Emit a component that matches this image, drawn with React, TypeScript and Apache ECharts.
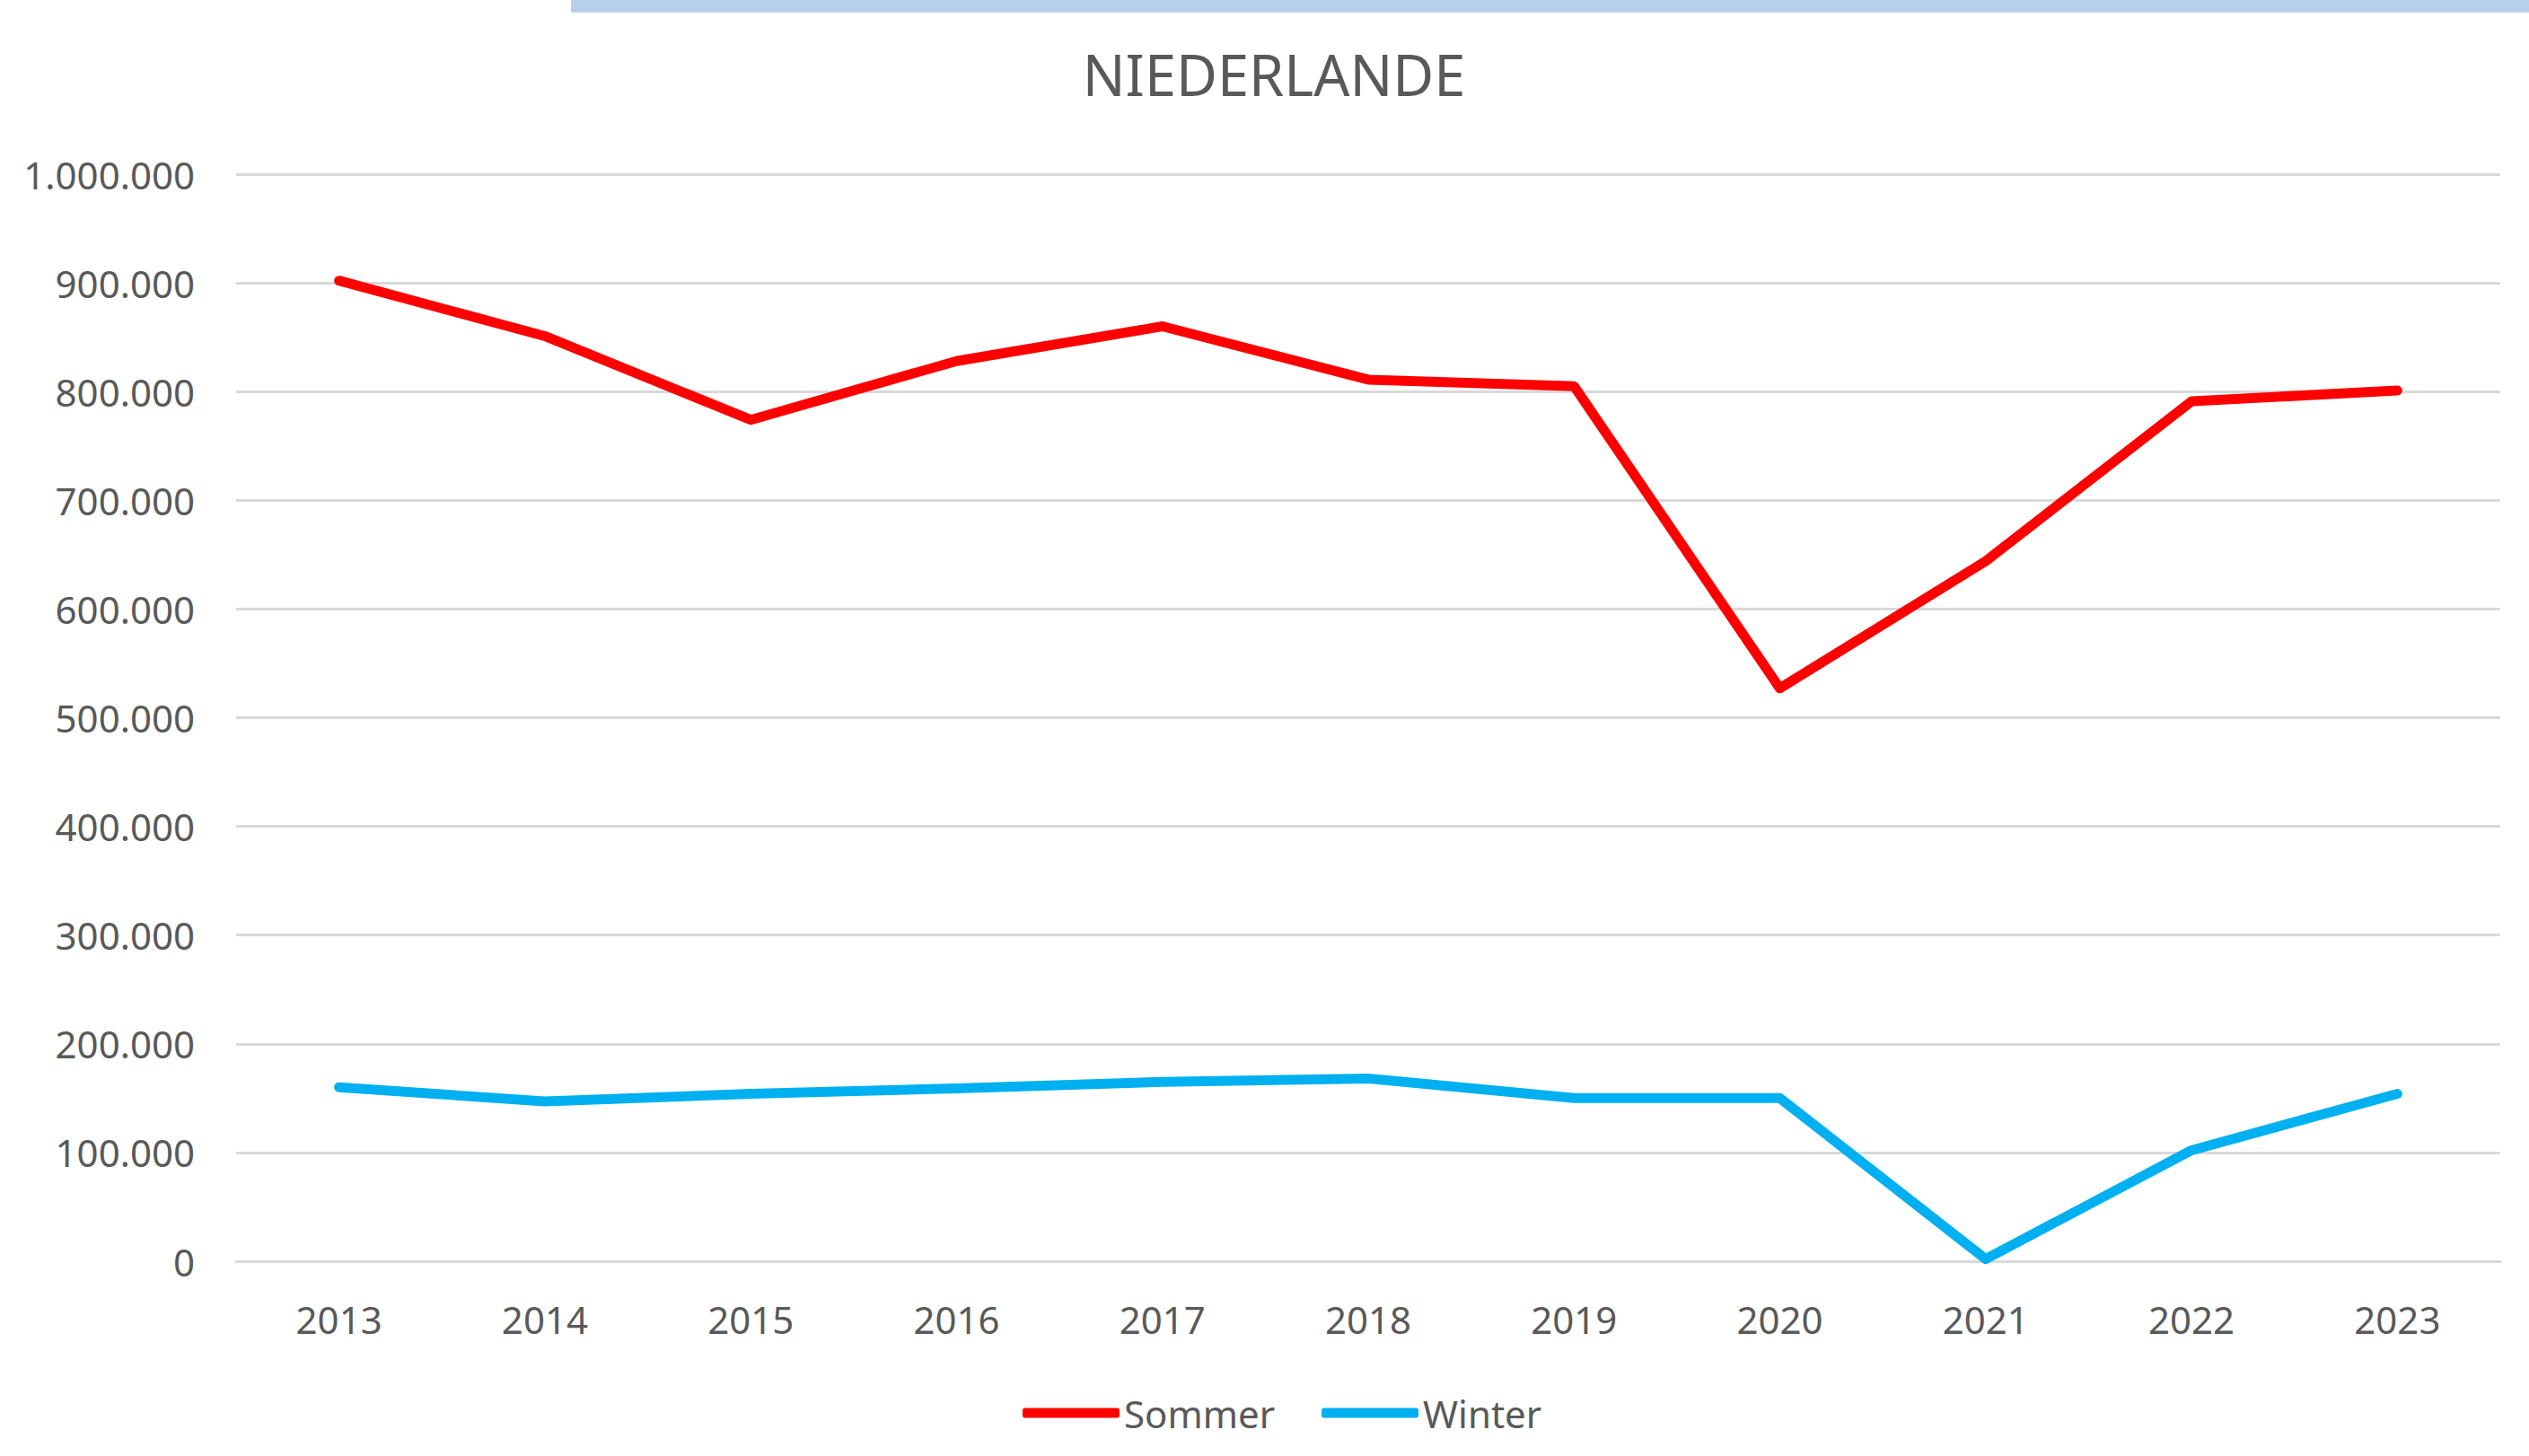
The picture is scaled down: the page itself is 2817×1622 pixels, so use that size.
import React, { useEffect, useRef } from "react";
import * as echarts from "echarts";

const years = ["2013", "2014", "2015", "2016", "2017", "2018", "2019", "2020", "2021", "2022", "2023"];
const sommer = [902000, 851000, 774000, 828000, 860000, 811000, 805000, 527000, 644000, 791000, 801000];
const winter = [160000, 147000, 154000, 159000, 165000, 168000, 150000, 150000, 2000, 102000, 154000];
const seriesNames = ["Sommer", "Winter"];
const seriesColors = ["#FF0000", "#00B0F0"];

const FONT = "'Noto Sans', sans-serif";
const TEXT = "#595959";

function fmt(v: number): string {
  return String(Math.round(v)).replace(/\B(?=(\d{3})+(?!\d))/g, ".");
}

export default function App() {
  const ref = useRef<HTMLDivElement>(null);
  useEffect(() => {
    if (!ref.current) return;
    const chart = echarts.init(ref.current, null, { renderer: "svg" });
    chart.setOption({
      animation: false,
      backgroundColor: "#ffffff",
      textStyle: { fontFamily: FONT },
      graphic: [
        {
          type: "rect",
          shape: { x: 636, y: 0, width: 2817 - 636, height: 14 },
          style: { fill: "#B8CFEC" },
        },
      ],
      title: {
        text: "NIEDERLANDE",
        left: 1414,
        textAlign: "center",
        top: 46,
        textStyle: { fontFamily: FONT, fontSize: 63, fontWeight: "normal", color: TEXT },
      },
      legend: {
        data: seriesNames,
        left: 1134,
        top: 1548,
        itemWidth: 108,
        itemHeight: 11,
        itemGap: 52,
        icon: "roundRect",
        textStyle: { fontFamily: FONT, fontSize: 42, color: TEXT, padding: [0, 0, 0, 0] },
      },
      grid: { left: 263, right: 32, top: 194, bottom: 217, containLabel: false },
      xAxis: {
        type: "category",
        data: years,
        boundaryGap: true,
        axisLine: { show: true, lineStyle: { color: "#D9D9D9", width: 3 } },
        axisTick: { show: false },
        axisLabel: { fontFamily: FONT, fontSize: 42, color: TEXT, margin: 43 },
      },
      yAxis: {
        type: "value",
        min: 0,
        max: 1000000,
        interval: 100000,
        axisLine: { show: false },
        axisTick: { show: false },
        splitLine: { lineStyle: { color: "#D9D9D9", width: 3 } },
        axisLabel: {
          fontFamily: FONT,
          fontSize: 42,
          color: TEXT,
          margin: 46,
          formatter: (v: number) => fmt(v),
        },
      },
      series: [
        {
          name: seriesNames[0],
          type: "line",
          data: sommer,
          showSymbol: false,
          symbol: "none",
          lineStyle: { color: seriesColors[0], width: 11, cap: "round", join: "round" },
          itemStyle: { color: seriesColors[0] },
        },
        {
          name: seriesNames[1],
          type: "line",
          data: winter,
          showSymbol: false,
          symbol: "none",
          lineStyle: { color: seriesColors[1], width: 11, cap: "round", join: "round" },
          itemStyle: { color: seriesColors[1] },
        },
      ],
    });
    return () => chart.dispose();
  }, []);
  return <div ref={ref} style={{ width: 2817, height: 1622, position: "absolute", left: 0, top: 0 }} />;
}
